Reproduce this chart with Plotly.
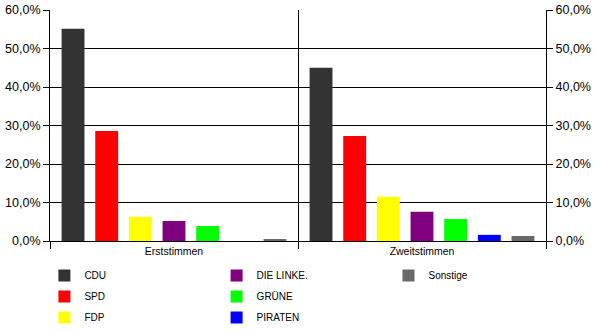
import plotly.graph_objects as go

categories = ["Erststimmen", "Zweitstimmen"]
parties = ["CDU", "SPD", "FDP", "DIE LINKE.", "GRÜNE", "PIRATEN", "Sonstige"]
erststimmen = [55.1, 28.6, 6.3, 5.2, 3.9, 0.0, 0.5]
zweitstimmen = [45.0, 27.3, 11.5, 7.6, 5.7, 1.6, 1.3]
colors = ["#333333", "#FF0000", "#FFFF00", "#800080", "#00FF00", "#0000FF", "#696969"]
legend_ids = ["legend", "legend", "legend", "legend2", "legend2", "legend2", "legend3"]
y_ticks = [0, 10, 20, 30, 40, 50, 60]
y_ticktext = [f"{v:.1f}%".replace(".", ",") for v in y_ticks]

FONT = "Liberation Sans, Arial, sans-serif"

fig = go.Figure()
for i, p in enumerate(parties):
    fig.add_trace(go.Bar(
        x=categories, y=[erststimmen[i], zweitstimmen[i]], name=p,
        marker=dict(color=colors[i], line=dict(width=0)),
        legend=legend_ids[i], legendgroup=p,
    ))

# invisible trace to activate the right-hand axis
fig.add_trace(go.Scatter(x=[categories[0]], y=[0], yaxis="y2", mode="markers",
                         marker=dict(opacity=0), showlegend=False, hoverinfo="skip"))

legend_common = dict(orientation="v", xanchor="left", yanchor="top",
                     xref="container", yref="container",
                     font=dict(family=FONT, size=10, color="black"),
                     bgcolor="rgba(0,0,0,0)", tracegroupgap=2, itemclick=False)

yax_common = dict(range=[0, 60], tickmode="array", tickvals=y_ticks, ticktext=y_ticktext,
                  showline=True, linecolor="black", linewidth=1,
                  ticks="outside", ticklen=6, tickcolor="black",
                  zeroline=False, tickfont=dict(size=12.5), fixedrange=True)

fig.update_layout(
    width=600, height=333,
    margin=dict(l=50, r=54, t=10, b=92, autoexpand=False),
    paper_bgcolor="white", plot_bgcolor="white",
    barmode="group", bargap=0.05, bargroupgap=0.32,
    font=dict(family=FONT, color="black"),
    xaxis=dict(showline=True, linecolor="black", linewidth=1,
               ticks="outside", tickson="boundaries", ticklen=7, tickcolor="black",
               showgrid=True, gridcolor="black", gridwidth=1,
               tickfont=dict(size=10.5), fixedrange=True),
    yaxis=dict(showgrid=True, gridcolor="black", gridwidth=1, **yax_common),
    yaxis2=dict(overlaying="y", side="right", anchor="x", showgrid=False, **yax_common),
    legend=dict(x=0.074, y=0.216, **legend_common),
    legend2=dict(x=0.361, y=0.216, **legend_common),
    legend3=dict(x=0.6475, y=0.216, **legend_common),
)

fig.write_html("out.html")
